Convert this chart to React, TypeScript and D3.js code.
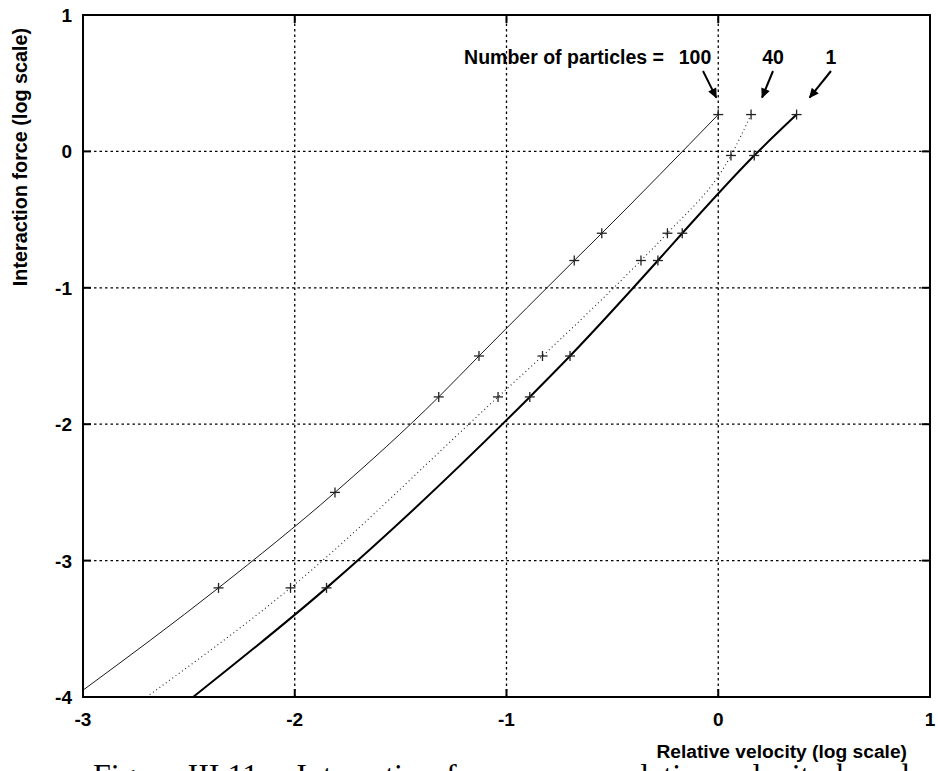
import React, { useEffect, useRef } from "react";
import * as d3 from "d3";

// axis ticks (log10 values)
const velocityTicks = [-3, -2, -1, 0, 1];
const forceTicks = [-4, -3, -2, -1, 0, 1];

// first point of every series is where the fitted curve leaves the frame (no marker)
// N = 100 particles, thin solid
const velocity100 = [-3, -2.36, -1.81, -1.32, -1.13, -0.68, -0.55, 0];
const force100 = [-3.95, -3.2, -2.5, -1.8, -1.5, -0.8, -0.6, 0.27];
// N = 40 particles, dotted
const velocity40 = [-2.7, -2.02, -1.04, -0.83, -0.365, -0.24, 0.06, 0.155];
const force40 = [-4, -3.2, -1.8, -1.5, -0.8, -0.6, -0.03, 0.27];
// N = 1 particle, thick solid
const velocity1 = [-2.48, -1.85, -0.89, -0.7, -0.285, -0.17, 0.17, 0.37];
const force1 = [-4, -3.2, -1.8, -1.5, -0.8, -0.6, -0.03, 0.27];

const particleLabels = ["100", "40", "1"];

const width = 938;
const height = 771;
const margin = { top: 15, right: 8, bottom: 74, left: 83 };

function App() {
  const ref = useRef<HTMLDivElement>(null);

  useEffect(() => {
    const svg = d3
      .select(ref.current)
      .append("svg")
      .attr("width", width)
      .attr("height", height)
      .style("position", "absolute")
      .style("left", 0)
      .style("top", 0)
      .style("background", "#fff");

    const x = d3
      .scaleLinear()
      .domain([-3, 1])
      .range([margin.left, width - margin.right]);
    const y = d3
      .scaleLinear()
      .domain([-4, 1])
      .range([height - margin.bottom, margin.top]);

    const x0 = x.range()[0];
    const x1 = x.range()[1];
    const y0 = y.range()[0];
    const y1 = y.range()[1];

    const font = "'Liberation Sans', Arial, Helvetica, sans-serif";

    // grid
    const grid = svg.append("g");
    grid
      .selectAll("line.gx")
      .data(velocityTicks.slice(1, -1))
      .join("line")
      .attr("x1", (d) => x(d))
      .attr("x2", (d) => x(d))
      .attr("y1", y0)
      .attr("y2", y1)
      .attr("stroke", "#000")
      .attr("stroke-width", 1.3)
      .attr("stroke-dasharray", "2.5,3");
    grid
      .selectAll("line.gy")
      .data(forceTicks.slice(1, -1))
      .join("line")
      .attr("x1", x0)
      .attr("x2", x1)
      .attr("y1", (d) => y(d))
      .attr("y2", (d) => y(d))
      .attr("stroke", "#000")
      .attr("stroke-width", 1.3)
      .attr("stroke-dasharray", "2.5,3");

    // tick marks (mirrored, inward)
    const tl = 8;
    const ticks = svg.append("g").attr("stroke", "#000").attr("stroke-width", 2);
    velocityTicks.forEach((t) => {
      ticks.append("line").attr("x1", x(t)).attr("x2", x(t)).attr("y1", y0).attr("y2", y0 - tl);
      ticks.append("line").attr("x1", x(t)).attr("x2", x(t)).attr("y1", y1).attr("y2", y1 + tl);
    });
    forceTicks.forEach((t) => {
      ticks.append("line").attr("x1", x0).attr("x2", x0 + tl).attr("y1", y(t)).attr("y2", y(t));
      ticks.append("line").attr("x1", x1).attr("x2", x1 - tl).attr("y1", y(t)).attr("y2", y(t));
    });

    // tick labels
    svg
      .append("g")
      .selectAll("text")
      .data(velocityTicks)
      .join("text")
      .attr("x", (d) => x(d))
      .attr("y", y0 + 29)
      .attr("text-anchor", "middle")
      .attr("font-family", font)
      .attr("font-weight", "bold")
      .attr("font-size", 19)
      .text((d) => String(d));
    svg
      .append("g")
      .selectAll("text")
      .data(forceTicks)
      .join("text")
      .attr("x", x0 - 11)
      .attr("y", (d) => y(d) + 7)
      .attr("text-anchor", "end")
      .attr("font-family", font)
      .attr("font-weight", "bold")
      .attr("font-size", 19)
      .text((d) => String(d));

    // curves
    const series = [
      { v: velocity100, f: force100, width: 1, dash: null, color: "#1a1a1a" },
      { v: velocity40, f: force40, width: 1.1, dash: "1,3", color: "#222" },
      { v: velocity1, f: force1, width: 2, dash: null, color: "#000" },
    ];
    const line = d3
      .line<[number, number]>()
      .x((d) => x(d[0]))
      .y((d) => y(d[1]))
      .curve(d3.curveMonotoneX);

    series.forEach((s) => {
      const pts = s.v.map((v, i) => [v, s.f[i]] as [number, number]);
      svg
        .append("path")
        .attr("d", line(pts))
        .attr("fill", "none")
        .attr("stroke", s.color)
        .attr("stroke-width", s.width)
        .attr("stroke-dasharray", s.dash);
      const m = 5;
      const g = svg.append("g").attr("stroke", "#222").attr("stroke-width", 1.3);
      pts.slice(1).forEach((p) => {
        g.append("line").attr("x1", x(p[0]) - m).attr("x2", x(p[0]) + m).attr("y1", y(p[1])).attr("y2", y(p[1]));
        g.append("line").attr("x1", x(p[0])).attr("x2", x(p[0])).attr("y1", y(p[1]) - m).attr("y2", y(p[1]) + m);
      });
    });

    // frame
    svg
      .append("rect")
      .attr("x", x0)
      .attr("y", y1)
      .attr("width", x1 - x0)
      .attr("height", y0 - y1)
      .attr("fill", "none")
      .attr("stroke", "#000")
      .attr("stroke-width", 2);

    // annotation
    const labelY = 64;
    svg
      .append("text")
      .attr("x", 664)
      .attr("y", labelY)
      .attr("text-anchor", "end")
      .attr("font-family", font)
      .attr("font-weight", "bold")
      .attr("font-size", 19.5)
      .text("Number of particles =");

    svg
      .append("defs")
      .append("marker")
      .attr("id", "arrowHead")
      .attr("viewBox", "0 0 10 10")
      .attr("refX", 9)
      .attr("refY", 5)
      .attr("markerWidth", 11)
      .attr("markerHeight", 10)
      .attr("markerUnits", "userSpaceOnUse")
      .attr("orient", "auto")
      .append("path")
      .attr("d", "M0,0.5 L10,5 L0,9.5 Z")
      .attr("fill", "#000");

    const labelX = [695, 773, 831];
    const tops = [
      [velocity100[velocity100.length - 1], force100[force100.length - 1]],
      [velocity40[velocity40.length - 1], force40[force40.length - 1]],
      [velocity1[velocity1.length - 1], force1[force1.length - 1]],
    ];
    const tipDx = [-2, 11, 13];
    particleLabels.forEach((lab, i) => {
      svg
        .append("text")
        .attr("x", labelX[i])
        .attr("y", labelY)
        .attr("text-anchor", "middle")
        .attr("font-family", font)
        .attr("font-weight", "bold")
        .attr("font-size", 19.5)
        .text(lab);
      const tx = x(tops[i][0]) + tipDx[i];
      const ty = y(tops[i][1]) - 17;
      svg
        .append("line")
        .attr("x1", labelX[i] + (i === 0 ? 8 : 0))
        .attr("y1", labelY + 7)
        .attr("x2", tx)
        .attr("y2", ty)
        .attr("stroke", "#000")
        .attr("stroke-width", 2)
        .attr("marker-end", "url(#arrowHead)");
    });

    // axis titles
    svg
      .append("text")
      .attr("x", 907)
      .attr("y", 758)
      .attr("text-anchor", "end")
      .attr("font-family", font)
      .attr("font-weight", "bold")
      .attr("font-size", 19.2)
      .text("Relative velocity (log scale)");
    svg
      .append("text")
      .attr("transform", "translate(27,157) rotate(-90)")
      .attr("text-anchor", "middle")
      .attr("font-family", font)
      .attr("font-weight", "bold")
      .attr("font-size", 19.8)
      .text("Interaction force (log scale)");

    // caption (cut off by the bottom of the page)
    svg
      .append("text")
      .attr("x", 93)
      .attr("y", 786)
      .attr("font-family", "'Liberation Serif', 'Times New Roman', serif")
      .attr("font-size", 32)
      .attr("word-spacing", 3)
      .text("Figure III.11 \u2013 Interaction force versus relative velocity based");

    return () => {
      svg.remove();
    };
  }, []);

  return <div ref={ref}></div>;
}

export default App;
